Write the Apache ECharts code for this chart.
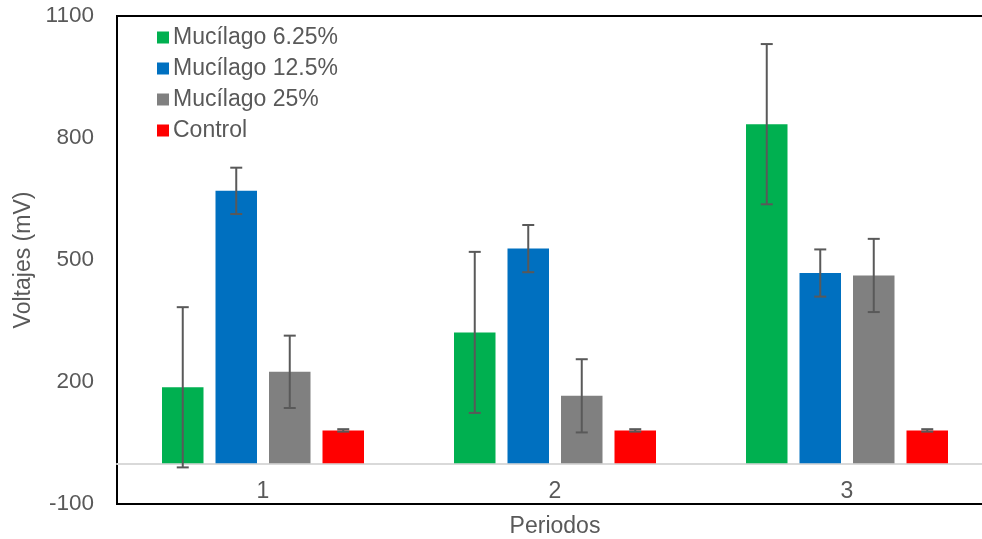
<!DOCTYPE html>
<html>
<head>
<meta charset="utf-8">
<script src="https://cdn.jsdelivr.net/npm/echarts@6/dist/echarts.min.js"></script>
<style>
html,body{margin:0;padding:0;background:#fff;}
#c{width:982px;height:539px;}
</style>
</head>
<body>
<div id="c"></div>
<script>
const categories = ['1', '2', '3'];
const seriesNames = ['Mucílago 6.25%', 'Mucílago 12.5%', 'Mucílago 25%', 'Control'];
const muc625 = [187, 322, 834];
const muc125 = [670, 528, 468];
const muc25 = [225, 166, 462];
const control = [81, 81, 81];
const err625 = [197, 198, 197];
const err125 = [57, 58, 58];
const err25 = [89, 90, 90];
const errControl = [3, 3, 3];
const yTicks = { min: -100, max: 1100, interval: 300 };

const values = [muc625, muc125, muc25, control];
const errors = [err625, err125, err25, errControl];
const colors = ['#00B050', '#0070C0', '#808080', '#FF0000'];
const BAR_W = 41.5, BAR_GAP_PX = 12;
const FONT = 'Liberation Sans, Arial, sans-serif';
const TXT = '#595959';

const series = [];
values.forEach((vals, i) => {
  series.push({
    name: seriesNames[i],
    type: 'bar',
    data: vals,
    barWidth: BAR_W,
    barGap: (BAR_GAP_PX / BAR_W * 100) + '%',
    itemStyle: { color: colors[i] },
    z: 2
  });
});
values.forEach((vals, i) => {
  const offset = (i - 1.5) * (BAR_W + BAR_GAP_PX);
  series.push({
    name: 'err' + i,
    type: 'custom',
    z: 5,
    silent: true,
    data: vals.map((v, k) => [k, v, errors[i][k]]),
    renderItem: function (params, api) {
      const k = api.value(0), v = api.value(1), e = api.value(2);
      const x = api.coord([k, 0])[0] + offset;
      const yt = api.coord([k, v + e])[1];
      const yb = api.coord([k, v - e])[1];
      const cap = 6;
      const st = { stroke: '#595959', lineWidth: 2 };
      return {
        type: 'group',
        children: [
          { type: 'line', shape: { x1: x, y1: yt, x2: x, y2: yb }, style: st },
          { type: 'line', shape: { x1: x - cap, y1: yt, x2: x + cap, y2: yt }, style: st },
          { type: 'line', shape: { x1: x - cap, y1: yb, x2: x + cap, y2: yb }, style: st }
        ]
      };
    }
  });
});

const chart = echarts.init(document.getElementById('c'));
chart.setOption({
  animation: false,
  backgroundColor: '#fff',
  textStyle: { fontFamily: FONT },
  grid: {
    left: 117, top: 16, width: 876, height: 488,
    containLabel: false,
    outerBoundsMode: 'none',
    show: true, borderColor: '#000', borderWidth: 2, backgroundColor: 'transparent'
  },
  legend: {
    data: seriesNames,
    orient: 'vertical',
    left: 157, top: 26, padding: 0,
    itemWidth: 12, itemHeight: 12, itemGap: 8,
    icon: 'rect',
    textStyle: { color: TXT, fontSize: 23, fontFamily: FONT, padding: [0, 0, 0, -1] }
  },
  xAxis: {
    type: 'category',
    data: categories,
    axisLine: { onZero: true, lineStyle: { color: '#d9d9d9', width: 2 } },
    axisTick: { show: false },
    axisLabel: { color: TXT, fontSize: 23, margin: -23.5, fontFamily: FONT },
    name: 'Periodos',
    nameLocation: 'middle',
    nameGap: 11,
    nameTextStyle: { color: TXT, fontSize: 23, fontFamily: FONT, verticalAlign: 'top' }
  },
  yAxis: {
    type: 'value',
    min: yTicks.min, max: yTicks.max, interval: yTicks.interval,
    axisLine: { show: false },
    axisTick: { show: false },
    splitLine: { show: false },
    axisLabel: { color: TXT, fontSize: 22.5, margin: 23, fontFamily: FONT, formatter: v => String(v) },
    name: 'Voltajes (mV)',
    nameLocation: 'middle',
    nameGap: 82,
    nameTextStyle: { color: TXT, fontSize: 23, fontFamily: FONT }
  },
  series: series
});
</script>
</body>
</html>
